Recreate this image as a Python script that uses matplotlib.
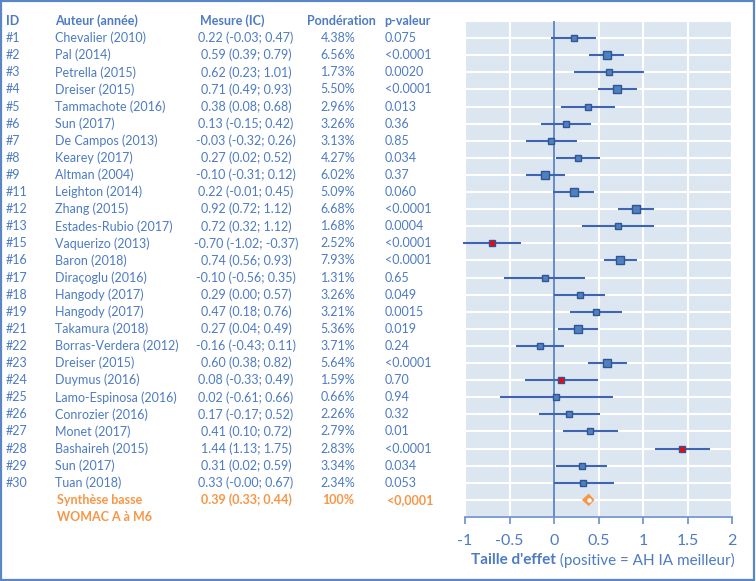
import matplotlib
matplotlib.use("Agg")
import matplotlib.pyplot as plt
from matplotlib.transforms import blended_transform_factory
from matplotlib.patches import Polygon, Rectangle

ids = ["#1", "#2", "#3", "#4", "#5", "#6", "#7", "#8", "#9", "#11", "#12", "#13",
       "#15", "#16", "#17", "#18", "#19", "#21", "#22", "#23", "#24", "#25", "#26",
       "#27", "#28", "#29", "#30"]
authors = ["Chevalier (2010)", "Pal (2014)", "Petrella (2015)", "Dreiser (2015)",
           "Tammachote (2016)", "Sun (2017)", "De Campos (2013)", "Kearey (2017)",
           "Altman (2004)", "Leighton (2014)", "Zhang (2015)", "Estades-Rubio (2017)",
           "Vaquerizo (2013)", "Baron (2018)", "Diraçoglu (2016)", "Hangody (2017)",
           "Hangody (2017)", "Takamura (2018)", "Borras-Verdera (2012)", "Dreiser (2015)",
           "Duymus (2016)", "Lamo-Espinosa (2016)", "Conrozier (2016)", "Monet (2017)",
           "Bashaireh (2015)", "Sun (2017)", "Tuan (2018)"]
effect = [0.22, 0.59, 0.62, 0.71, 0.38, 0.13, -0.03, 0.27, -0.10, 0.22, 0.92, 0.72,
          -0.70, 0.74, -0.10, 0.29, 0.47, 0.27, -0.16, 0.60, 0.08, 0.02, 0.17, 0.41,
          1.44, 0.31, 0.33]
ci_low = [-0.03, 0.39, 0.23, 0.49, 0.08, -0.15, -0.32, 0.02, -0.31, -0.01, 0.72, 0.32,
          -1.02, 0.56, -0.56, 0.00, 0.18, 0.04, -0.43, 0.38, -0.33, -0.61, -0.17, 0.10,
          1.13, 0.02, -0.00]
ci_high = [0.47, 0.79, 1.01, 0.93, 0.68, 0.42, 0.26, 0.52, 0.12, 0.45, 1.12, 1.12,
           -0.37, 0.93, 0.35, 0.57, 0.76, 0.49, 0.11, 0.82, 0.49, 0.66, 0.52, 0.72,
           1.75, 0.59, 0.67]
weights = [4.38, 6.56, 1.73, 5.50, 2.96, 3.26, 3.13, 4.27, 6.02, 5.09, 6.68, 1.68,
           2.52, 7.93, 1.31, 3.26, 3.21, 5.36, 3.71, 5.64, 1.59, 0.66, 2.26, 2.79,
           2.83, 3.34, 2.34]
pvalues = ["0.075", "<0.0001", "0.0020", "<0.0001", "0.013", "0.36", "0.85", "0.034",
           "0.37", "0.060", "<0.0001", "0.0004", "<0.0001", "<0.0001", "0.65", "0.049",
           "0.0015", "0.019", "0.24", "<0.0001", "0.70", "0.94", "0.32", "0.01",
           "<0.0001", "0.034", "0.053"]
highlight = ["#15", "#24", "#28"]

pooled_effect = 0.39
pooled_low = 0.33
pooled_high = 0.44
pooled_label = ["Synthèse basse", "WOMAC A à M6"]
pooled_weight = "100%"
pooled_p = "<0,0001"

headers = ["ID", "Auteur (année)", "Mesure (IC)", "Pondération", "p-valeur"]
xticks = [-1, -0.5, 0, 0.5, 1, 1.5, 2]
xtick_labels = ["-1", "-0.5", "0", "0.5", "1", "1.5", "2"]

BLUE_TXT = "#4D7BC4"
ORANGE = "#F79646"
FONT = "Lato"

W, H = 756, 581
fig = plt.figure(figsize=(W / 100, H / 100), dpi=100)
fig.patch.set_facecolor("white")
fig.patches.append(Rectangle((0.001, 0.001), 0.997, 0.997, transform=fig.transFigure,
                             fill=False, edgecolor="#5A86C8", linewidth=1.6))

ax = fig.add_axes([465 / W, 1 - 517 / H, (732 - 465) / W, (517 - 21) / H])
ax.set_facecolor("#DCE6F1")
n = len(ids)
rows = list(range(1, n + 1))
pooled_row = n + 1
ax.set_ylim(n + 2, 0)
ax.set_xlim(-1, 2)

for r in range(0, n + 3):
    ax.axhline(r, color="white", lw=1.5, zorder=1)
for xt in xticks:
    ax.axvline(xt, color="white", lw=1.5, zorder=1)
ax.axvline(0, color="#5B80C4", lw=1.3, zorder=2)

for i, r in enumerate(rows):
    ax.plot([ci_low[i], ci_high[i]], [r, r], color="#3E64B2", lw=1.5,
            solid_capstyle="butt", zorder=3, clip_on=False)
    fc = "#FF0000" if ids[i] in highlight else "#4F81BD"
    ms = 3.4 + weights[i] * 0.33
    ax.plot(effect[i], r, marker="s", ms=ms, mfc=fc, mec="#2F5597", mew=1.0,
            zorder=4, clip_on=False)

h = 0.28
ax.add_patch(Polygon([(pooled_low, pooled_row), (pooled_effect, pooled_row - h),
                      (pooled_high, pooled_row), (pooled_effect, pooled_row + h)],
                     closed=True, facecolor=ORANGE, edgecolor=ORANGE, lw=1.5, zorder=4))
ax.plot(pooled_effect, pooled_row, marker="o", ms=2.2, color="white", zorder=5)

ax.set_yticks([])
ax.set_xticks(xticks)
ax.set_xticklabels(xtick_labels, fontsize=11.5, color=BLUE_TXT, family=FONT)
ax.tick_params(axis="x", direction="out", length=5, width=1.2, color="#6A8FCC", pad=7)
for s in ["top", "right", "left"]:
    ax.spines[s].set_visible(False)
ax.spines["bottom"].set_color("#6A8FCC")
ax.spines["bottom"].set_linewidth(1.2)

# x label: bold + normal part, centred under the plot area
ylab = 1 - 560 / H
t1 = fig.text(0, ylab, "Taille d'effet", fontsize=11, fontweight="bold",
              color=BLUE_TXT, family=FONT, ha="left", va="center")
t2 = fig.text(0, ylab, " (positive = AH IA meilleur)", fontsize=11,
              color=BLUE_TXT, family=FONT, ha="left", va="center")
fig.canvas.draw()
w1 = t1.get_window_extent().width
w2 = t2.get_window_extent().width
cx = 603
left = cx - (w1 + w2) / 2
t1.set_position((left / W, ylab))
t2.set_position(((left + w1) / W, ylab))

# table text
trt = blended_transform_factory(fig.transFigure, ax.transData)
fs = 9
col_x = [6, 55, 246, 338, 385]
head_x = [6, 55, 200, 307, 384]
for j, hd in enumerate(headers):
    ax.text(head_x[j] / W, 0, hd, transform=trt, fontsize=fs, fontweight="bold",
            color=BLUE_TXT, family=FONT, ha="left", va="center", clip_on=False)

for i, r in enumerate(rows):
    kw = dict(transform=trt, fontsize=fs, color=BLUE_TXT, family=FONT, va="center",
              clip_on=False)
    ax.text(col_x[0] / W, r, ids[i], ha="left", **kw)
    ax.text(col_x[1] / W, r, authors[i], ha="left", **kw)
    ax.text(col_x[2] / W, r, f"{effect[i]:.2f} ({ci_low[i]:.2f}; {ci_high[i]:.2f})",
            ha="center", **kw)
    ax.text(col_x[3] / W, r, f"{weights[i]:.2f}%", ha="center", **kw)
    ax.text(col_x[4] / W, r, pvalues[i], ha="left", **kw)

kw = dict(transform=trt, fontsize=fs, color=ORANGE, family=FONT, va="center",
          fontweight="bold", clip_on=False)
ax.text(57 / W, pooled_row, pooled_label[0], ha="left", **kw)
ax.text(57 / W, pooled_row + 1, pooled_label[1], ha="left", **kw)
ax.text(col_x[2] / W, pooled_row,
        f"{pooled_effect:.2f} ({pooled_low:.2f}; {pooled_high:.2f})", ha="center", **kw)
ax.text(col_x[3] / W, pooled_row, pooled_weight, ha="center", **kw)
ax.text(387 / W, pooled_row, pooled_p, ha="left", **kw)

fig.savefig("out.png", dpi=100)
